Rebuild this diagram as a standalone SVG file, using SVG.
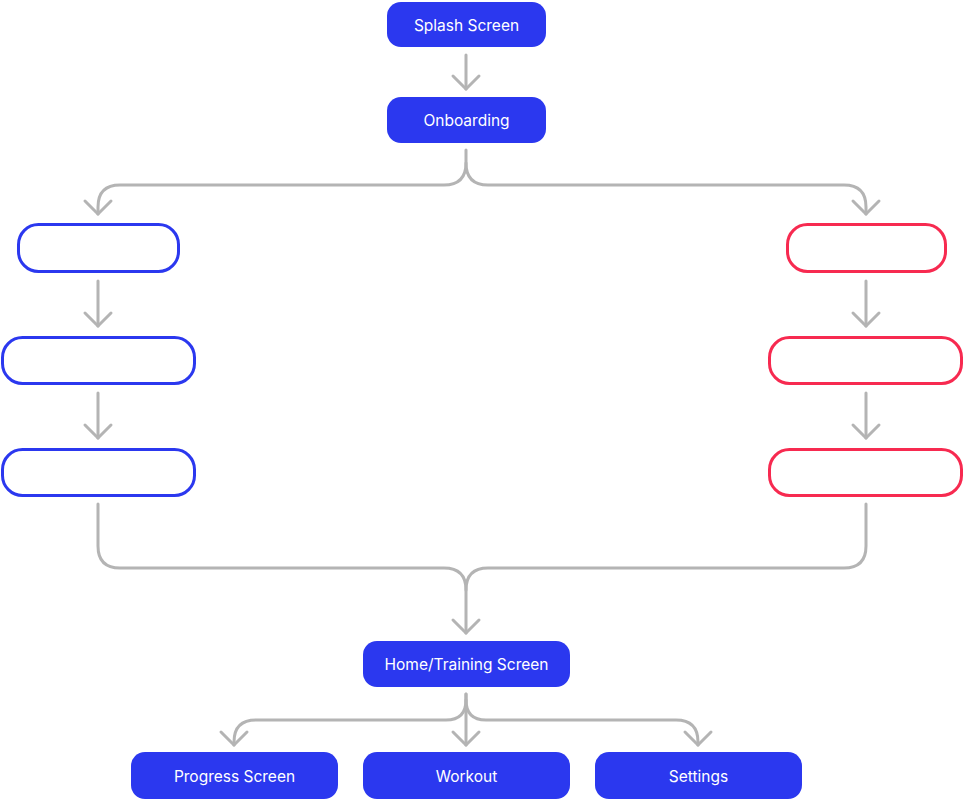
<svg xmlns="http://www.w3.org/2000/svg" width="965" height="801" viewBox="0 0 965 801">
<defs>
<marker id="arr" markerUnits="userSpaceOnUse" viewBox="-16 -16 20 32" refX="0" refY="0" markerWidth="20" markerHeight="32" orient="auto" overflow="visible">
<path d="M-13,-13 L0,0 L-13,13" fill="none" stroke="#B4B4B4" stroke-width="3" stroke-linecap="round" stroke-linejoin="round"/>
</marker>
</defs>
<style>
.solid{fill:#2B38EF}
.ob{fill:#fff;stroke:#2B38EF;stroke-width:3}
.or{fill:#fff;stroke:#F72A50;stroke-width:3}
.t{font-family:Inter,"Liberation Sans",sans-serif;font-size:15.5px;font-weight:400;fill:#fff;text-anchor:middle;dominant-baseline:central}
.c{fill:none;stroke:#B4B4B4;stroke-width:3;stroke-linecap:round;stroke-linejoin:round}
</style>
<rect width="965" height="801" fill="#fff"/>
<g id="connectors">
<path class="c" d="M466 55 V89" marker-end="url(#arr)"/>
<path class="c" d="M466 150 V163 Q466 185 444 185 H120 Q98 185 98 207 V214" marker-end="url(#arr)"/>
<path class="c" d="M466 163 Q466 185 488 185 H844 Q866 185 866 207 V214" marker-end="url(#arr)"/>
<path class="c" d="M98 281 V326" marker-end="url(#arr)"/>
<path class="c" d="M866 281 V326" marker-end="url(#arr)"/>
<path class="c" d="M98 393 V438" marker-end="url(#arr)"/>
<path class="c" d="M866 393 V438" marker-end="url(#arr)"/>
<path class="c" d="M98 504 V546 Q98 568 120 568 H444 Q466 568 466 590 V633" marker-end="url(#arr)"/>
<path class="c" d="M866 504 V546 Q866 568 844 568 H488 Q466 568 466 590"/>
<path class="c" d="M466 694 V700 Q466 720 446 720 H256 Q234 720 234 742 V745" marker-end="url(#arr)"/>
<path class="c" d="M466 700 Q466 720 486 720 H676 Q698 720 698 742 V745" marker-end="url(#arr)"/>
<path class="c" d="M466 694 V745" marker-end="url(#arr)"/>
</g>
<g id="splash"><rect class="solid" x="387" y="2" width="159" height="45" rx="14"/><text class="t" x="466.5" y="25">Splash Screen</text></g>
<g id="onboarding"><rect class="solid" x="387" y="97" width="159" height="46" rx="14"/><text class="t" x="466.5" y="120.5">Onboarding</text></g>
<g id="left1"><rect class="ob" x="18.5" y="224.5" width="160" height="47" rx="20"/><text class="t" x="98" y="248">Login</text></g>
<g id="left2"><rect class="ob" x="2.5" y="337.5" width="192" height="46" rx="20"/><text class="t" x="98" y="360.5">Select Your Goals</text></g>
<g id="left3"><rect class="ob" x="2.5" y="449.5" width="192" height="46" rx="20"/><text class="t" x="98" y="472.5">Select Level &amp; Gym</text></g>
<g id="right1"><rect class="or" x="787.5" y="224.5" width="158" height="47" rx="20"/><text class="t" x="866" y="248">Login</text></g>
<g id="right2"><rect class="or" x="769.5" y="337.5" width="192" height="46" rx="20"/><text class="t" x="866" y="360.5">Select Your Goals</text></g>
<g id="right3"><rect class="or" x="769.5" y="449.5" width="192" height="46" rx="20"/><text class="t" x="866" y="472.5">Select Level &amp; Gym</text></g>
<g id="home"><rect class="solid" x="363" y="641" width="207" height="46" rx="14"/><text class="t" x="466.5" y="664.5">Home/Training Screen</text></g>
<g id="progress"><rect class="solid" x="131" y="752" width="207" height="47" rx="14"/><text class="t" x="234.5" y="776">Progress Screen</text></g>
<g id="workout"><rect class="solid" x="363" y="752" width="207" height="47" rx="14"/><text class="t" x="466.5" y="776">Workout</text></g>
<g id="settings"><rect class="solid" x="595" y="752" width="207" height="47" rx="14"/><text class="t" x="698.5" y="776">Settings</text></g>
</svg>
